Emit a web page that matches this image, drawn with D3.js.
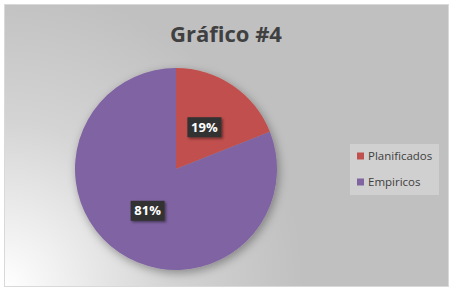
<!DOCTYPE html>
<html><head><meta charset="utf-8">
<script src="https://cdn.jsdelivr.net/npm/d3@7"></script>
<style>body{margin:0;background:#fff;}svg{display:block;}</style>
</head><body>
<script>
const title = "Gráfico #4";
const categories = ["Planificados", "Empiricos"];
const values = [19, 81];
const colors = ["#c0504d", "#8064a2"];

const W = 452, H = 291;
const svg = d3.select("body").append("svg").attr("width", W).attr("height", H);
const defs = svg.append("defs");
const grad = defs.append("radialGradient").attr("id", "bg")
  .attr("gradientUnits", "userSpaceOnUse")
  .attr("cx", 4).attr("cy", 287).attr("r", 300);
grad.append("stop").attr("offset", "0").attr("stop-color", "#ffffff");
grad.append("stop").attr("offset", "0.55").attr("stop-color", "#d4d4d4");
grad.append("stop").attr("offset", "1").attr("stop-color", "#c0c0c0");

const sh = defs.append("filter").attr("id", "sh").attr("x", "-30%").attr("y", "-30%").attr("width", "160%").attr("height", "160%");
sh.append("feDropShadow").attr("dx", 2).attr("dy", 3).attr("stdDeviation", 5).attr("flood-color", "#000").attr("flood-opacity", 0.35);
const sh2 = defs.append("filter").attr("id", "sh2").attr("x", "-30%").attr("y", "-30%").attr("width", "160%").attr("height", "160%");
sh2.append("feDropShadow").attr("dx", 1.5).attr("dy", 1.5).attr("stdDeviation", 1.2).attr("flood-color", "#000").attr("flood-opacity", 0.45);

svg.append("rect").attr("x", 4.5).attr("y", 4.5).attr("width", 444).attr("height", 282)
  .attr("fill", "url(#bg)").attr("stroke", "#d9d9d9");

svg.append("text").attr("x", 226).attr("y", 42).attr("text-anchor", "middle")
  .attr("font-family", "Open Sans, sans-serif").attr("font-weight", "bold")
  .attr("font-size", 22).attr("fill", "#404040").text(title);

const cx = 176, cy = 169, r = 101;
const pie = d3.pie().sort(null).value(d => d)(values);
const arc = d3.arc().innerRadius(0).outerRadius(r);
const labelArc = d3.arc().innerRadius(r * 0.5).outerRadius(r * 0.5);
const g = svg.append("g").attr("transform", `translate(${cx},${cy})`);
g.append("g").attr("filter", "url(#sh)").selectAll("path").data(pie).join("path")
  .attr("d", arc).attr("fill", (d, i) => colors[i]);

const total = d3.sum(values);
const lab = g.selectAll("g.lab").data(pie).join("g").attr("class", "lab")
  .attr("transform", d => `translate(${labelArc.centroid(d)})`);
lab.append("rect").attr("x", -17).attr("y", -10).attr("width", 34).attr("height", 20)
  .attr("fill", "#333333").attr("filter", "url(#sh2)");
lab.append("text").attr("text-anchor", "middle").attr("dy", "0.36em")
  .attr("font-family", "Open Sans, sans-serif").attr("font-weight", "bold")
  .attr("font-size", 13).attr("fill", "#ffffff")
  .text(d => Math.round(d.value / total * 100) + "%");

const lg = svg.append("g").attr("transform", "translate(350,144)");
lg.append("rect").attr("width", 89).attr("height", 51).attr("fill", "#d3d3d3").attr("opacity", 0.8);
const items = lg.selectAll("g.it").data(categories).join("g").attr("class", "it")
  .attr("transform", (d, i) => `translate(7,${12 + i * 26})`);
items.append("rect").attr("x", 0).attr("y", -3.5).attr("width", 7).attr("height", 7).attr("fill", (d, i) => colors[i]);
items.append("text").attr("x", 11).attr("dy", "0.35em")
  .attr("font-family", "Open Sans, sans-serif").attr("font-size", 11.5).attr("fill", "#404040").text(d => d);
</script>
</body></html>
